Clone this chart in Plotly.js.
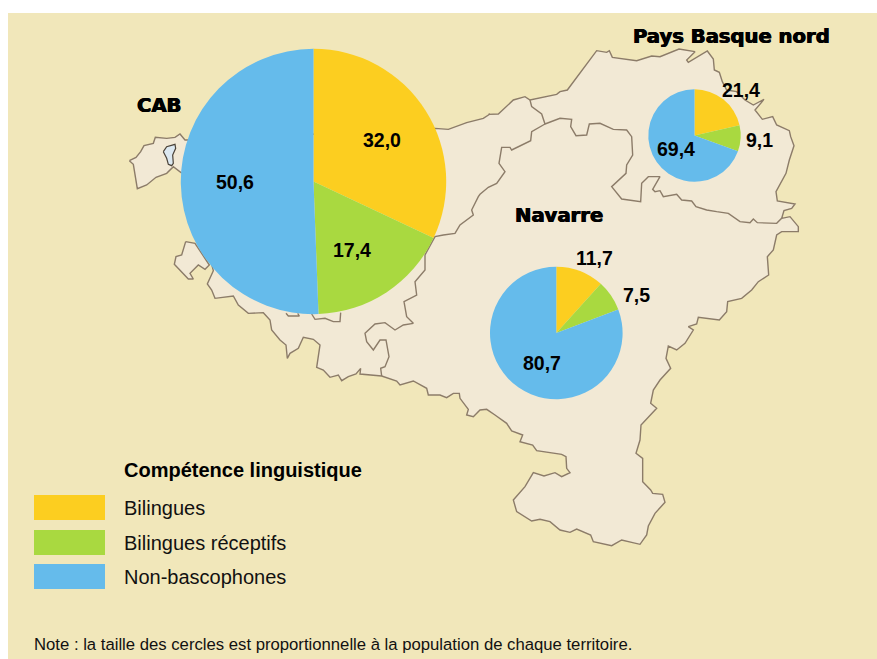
<!DOCTYPE html>
<html>
<head>
<meta charset="utf-8">
<script src="https://cdn.plot.ly/plotly-3.0.1.min.js"></script>
<style>
  html, body { margin: 0; padding: 0; background: #fff; }
  #chart { width: 877px; height: 659px; }
</style>
</head>
<body>
<div id="chart"></div>
<script>
// chart values
var categories = ['Bilingues', 'Bilingues réceptifs', 'Non-bascophones'];
var cabValues = [32.0, 17.4, 50.6];
var navarreValues = [11.7, 7.5, 80.7];
var pbnValues = [21.4, 9.1, 69.4];
var sliceColors = ['#fcce20', '#a9d940', '#65bbeb'];

// pies: centre x, centre y, radius in picture pixels
var cabPie = [313.5, 181.5, 132.7];
var navarrePie = [556.3, 333, 66.3];
var pbnPie = [694.5, 135.5, 46.2];

// value labels [text, x, y]
var valueLabels = [
    ['32,0', 381.5, 140], ['17,4', 351.5, 249.5], ['50,6', 235, 182],
    ['11,7', 594, 257.5], ['7,5', 636.5, 294.5], ['80,7', 541.5, 362.5],
    ['21,4', 740.5, 90], ['9,1', 759, 140], ['69,4', 675.5, 148.5]
];
var regionLabels = [
    ['CAB', 159.3, 105.7], ['Navarre', 558.7, 215], ['Pays Basque nord', 731.7, 36]
];

function crop (ox, oy, pts) {
    return pts.map(function (p) { return [ox + p[0] / 3, oy + p[1] / 3]; });
}

var westTop = crop(120, 130, [[28,92],[48,82],[62,65],[72,47],[100,40],[106,22],[140,25],[165,22],[180,12],[195,30],[210,30]]);
var outerNorth = crop(100, 0, [[1005,385],[1045,388],[1100,368],[1150,355],[1170,342]]);
var outerEast = crop(480, 0, [[25,343],[55,342],[75,322],[100,300],[135,290],[150,300],[230,283],[240,275],[262,270],
    [350,152],[380,157],[388,152],[397,172],[470,182],[515,168],[540,170],[597,147],[645,155],[620,180],[625,187],
    [682,153],[700,177],[703,210],[718,217],[727,245],[740,270],[770,275],[795,300],[820,315],[852,298],[825,330],
    [847,358],[878,350],[890,375],[928,392],[932,410],[942,437],[928,480],[918,520],[888,575],[892,603],[945,612],
    [935,625],[912,632],[905,655],[930,650],[955,680],[955,695],[905,695],[890,705],[880,750],[862,770],[866,825],
    [835,845],[815,870],[785,895],[743,905],[740,935],[718,960]]);
var outerSouth = crop(340, 300, [[1075,52],[1070,72],[1045,80],[1060,90],[1035,130],[1010,150],[985,138],[978,175],
    [992,205],[960,240],[940,270],[932,310],[950,325],[903,375],[900,420],[888,460],[908,475],[908,545],[932,570],
    [938,580],[968,583],[975,607],[945,640],[925,678],[920,705],[900,733],[845,720],[815,737],[760,725],[752,705],
    [710,687],[690,697],[660,690],[630,665],[600,658],[575,663],[530,635],[520,600],[555,560],[580,518],[612,528],
    [645,518],[665,530],[690,518],[680,505],[678,470],[665,463],[590,452],[578,435],[540,425],[548,405],[515,393],
    [500,370],[465,345],[440,328],[420,330],[400,350],[380,345],[385,328],[360,295],[358,280],[340,280],[320,293],
    [300,285],[265,285],[260,265],[220,243],[180,255],[170,243],[125,228],[60,222],[62,205],[48,222],[25,230],[5,242]]);
var outerWest = crop(270, 290, [[205,255],[180,262],[160,240],[140,232],[150,165],[130,148],[100,142],[85,175],[60,190],
    [52,205],[48,165],[30,150]]);
var coast = crop(100, 0, [[515,990],[510,960],[490,938],[445,940],[415,915],[400,888],[345,895],[335,870],[322,852],[340,812]]);
var westBottom = crop(120, 130, [[205,130],[183,128],[160,110],[140,130],[108,142],[80,165],[52,176],[40,103],[28,92]]);
var mainLand = westTop.concat(outerNorth, outerEast, outerSouth, outerWest, coast, westBottom);

var islet = crop(120, 130, [[197,335],[225,340],[268,405],[255,418],[235,405],[210,430],[220,447],[205,447],[163,403],[168,380],[185,375],[197,335]]);
var lake = crop(120, 130, [[130,65],[140,50],[165,43],[167,55],[158,75],[160,100],[155,107],[145,103],[140,85],[130,65]]);

// inner borders
var borderA = crop(480, 0, [[150,300],[155,320],[185,342],[195,372],[240,355],[275,358],[272,380],[288,407],[320,405],
    [328,372],[360,370],[400,388],[440,390],[455,410],[458,465],[440,495],[438,520],[395,560],[425,597],[482,605],
    [485,550],[505,530],[540,530],[518,568],[525,575],[540,572],[550,590],[575,585],[590,583],[605,600],[635,603],
    [648,620],[680,630],[710,635],[745,640],[780,665],[810,668],[820,657],[832,668],[890,670],[905,655]]);
var borderB = crop(480, 0, [[195,372],[155,395],[152,422],[95,450],[90,442],[65,442],[57,490],[75,515],[50,550],[25,562],[0,583]])
    .concat(crop(100, 0, [[1135,590],[1115,630],[1120,645],[1080,675],[1065,700],[1030,705],[1005,710],[975,765],[975,810],[945,845],[950,885],[912,905],[920,950],[940,970]]))
    .concat(crop(340, 300, [[190,75],[165,90],[135,68],[105,72],[75,100],[80,125],[100,150],[120,120],[138,120],[147,170],[135,200],[122,205],[125,228]]));
var borderC = crop(270, 290, [[48,70],[55,78],[88,78],[83,70]]);
var borderD = crop(270, 290, [[125,72],[135,88],[165,85],[190,95],[210,95],[212,68]]);

var landColor = '#f2e9d5';
var borderColor = '#8c7c69';

function xs (pts) { return pts.map(function (p) { return p[0]; }); }
function ys (pts) { return pts.map(function (p) { return p[1]; }); }

function mapTrace (pts, fill, lineColor, width) {
    return {
        type: 'scatter', mode: 'lines', x: xs(pts), y: ys(pts),
        fill: fill ? 'toself' : 'none', fillcolor: fill,
        line: {color: lineColor, width: width, shape: 'linear'},
        hoverinfo: 'skip', showlegend: false
    };
}

function pieTrace (values, c) {
    return {
        type: 'pie', values: values, labels: categories, sort: false, direction: 'clockwise', rotation: 0,
        marker: {colors: sliceColors, line: {width: 0}},
        textinfo: 'none', hoverinfo: 'skip', showlegend: false,
        domain: {x: [(c[0] - c[2]) / 877, (c[0] + c[2]) / 877], y: [1 - (c[1] + c[2]) / 659, 1 - (c[1] - c[2]) / 659]}
    };
}

var data = [
    mapTrace(mainLand, landColor, borderColor, 1.4),
    mapTrace(islet, landColor, borderColor, 1.4),
    mapTrace(lake, '#dce8f0', '#4a4238', 1.2),
    mapTrace(borderA, null, borderColor, 1.4),
    mapTrace(borderB, null, borderColor, 1.4),
    mapTrace(borderC, null, borderColor, 1.4),
    mapTrace(borderD, null, borderColor, 1.4),
    pieTrace(cabValues, cabPie),
    pieTrace(navarreValues, navarrePie),
    pieTrace(pbnValues, pbnPie)
];

var legendTops = [495, 530, 564];
var legendTextY = [508, 543, 577];

var shapes = [{type: 'rect', xref: 'x', yref: 'y', x0: 8, x1: 877, y0: 13, y1: 659, fillcolor: '#f1e7ba', line: {width: 0}, layer: 'below'}];
categories.forEach(function (c, i) {
    shapes.push({type: 'rect', xref: 'x', yref: 'y', x0: 34, x1: 105, y0: legendTops[i], y1: legendTops[i] + 25,
        fillcolor: sliceColors[i], line: {width: 0}, layer: 'below'});
});

function note (text, x, y, font, anchor) {
    return {text: text, x: x, y: y, xref: 'x', yref: 'y', showarrow: false, xanchor: anchor || 'center', yanchor: 'middle', font: font, borderpad: 0};
}

var sansFont = 'Liberation Sans, Arial, sans-serif';
var annotations = [];
valueLabels.forEach(function (l) {
    annotations.push(note(l[0], l[1], l[2], {family: sansFont, size: 19.5, color: '#000', weight: 700}));
});
// the region names are an extra-black face in the original, a thin shadow thickens them
regionLabels.forEach(function (l) {
    annotations.push(note(l[0], l[1], l[2], {family: 'DejaVu Sans, sans-serif', size: 19.6, color: '#000', weight: 700,
        shadow: '0.5px 0 0 #000, -0.5px 0 0 #000'}));
});
categories.forEach(function (c, i) {
    annotations.push(note(c, 123, legendTextY[i], {family: sansFont, size: 20, color: '#111'}, 'left'));
});
annotations.push(note('Compétence linguistique', 123, 470, {family: sansFont, size: 20, color: '#000', weight: 700}, 'left'));
annotations.push(note('Note : la taille des cercles est proportionnelle à la population de chaque territoire.', 32.5, 644,
    {family: sansFont, size: 16.7, color: '#111'}, 'left'));

var layout = {
    width: 877, height: 659,
    margin: {l: 0, r: 0, t: 0, b: 0},
    paper_bgcolor: '#fff', plot_bgcolor: 'rgba(0,0,0,0)',
    xaxis: {range: [0, 877], visible: false, fixedrange: true},
    yaxis: {range: [659, 0], visible: false, fixedrange: true},
    shapes: shapes,
    annotations: annotations,
    showlegend: false
};

Plotly.newPlot('chart', data, layout, {displayModeBar: false});
</script>
</body>
</html>
